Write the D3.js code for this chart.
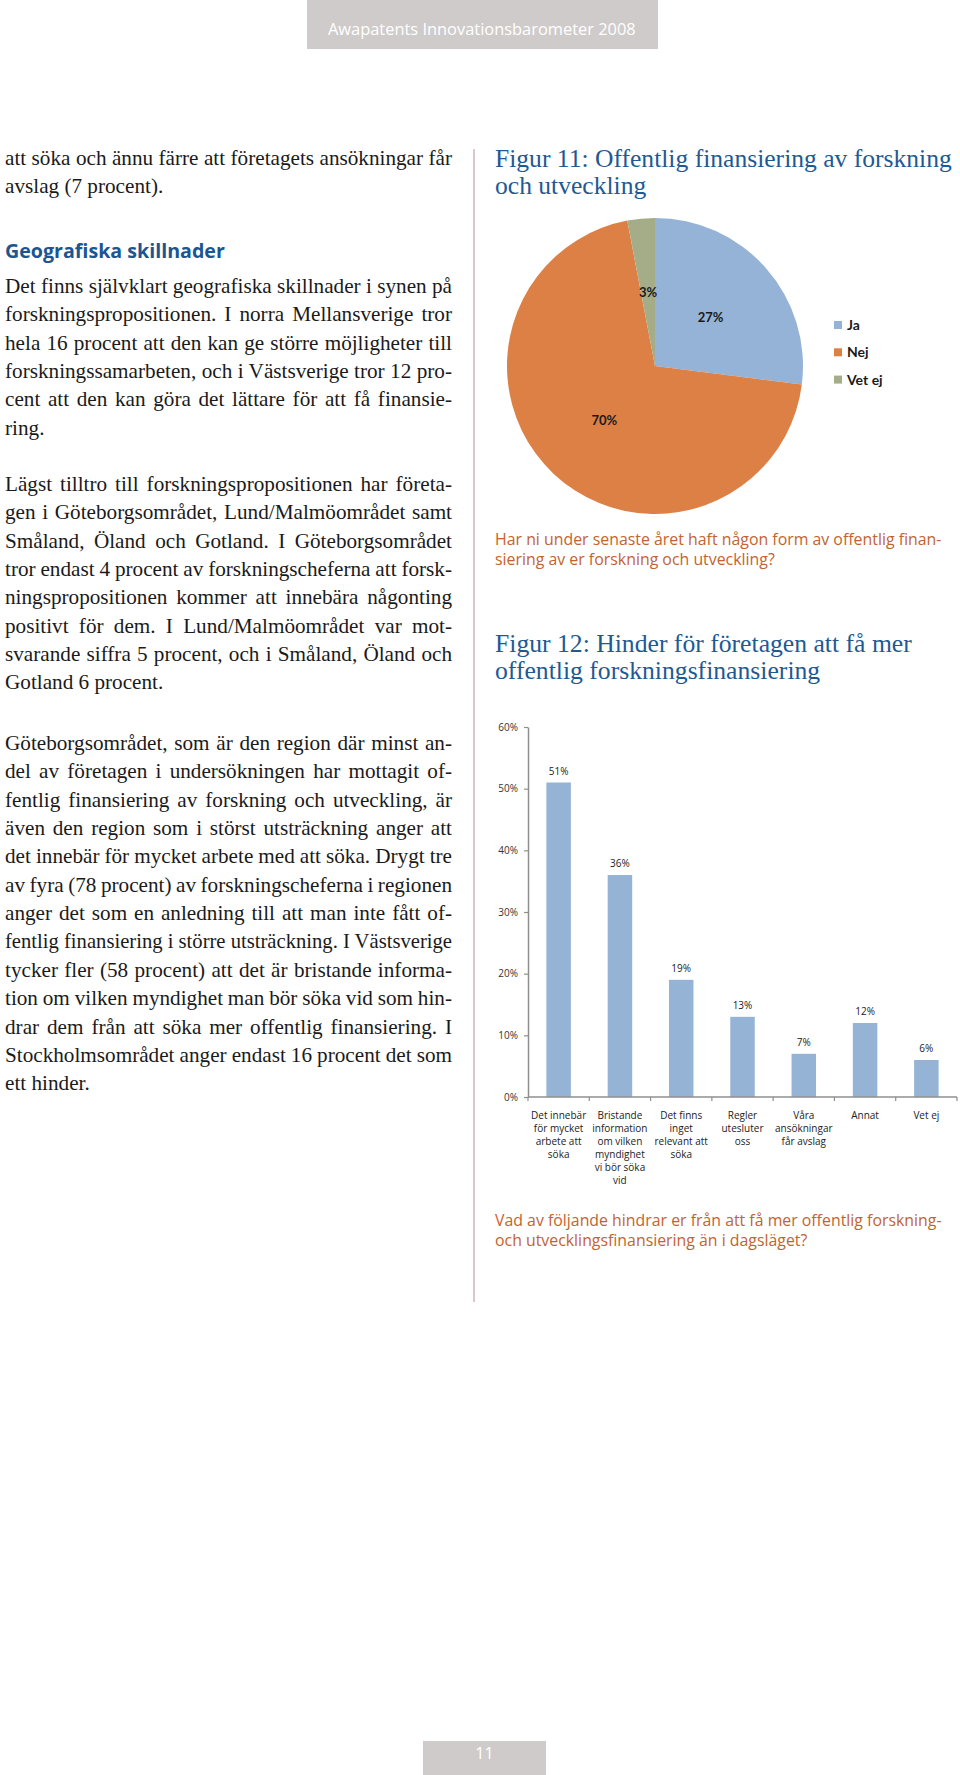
<!DOCTYPE html>
<html><head><meta charset="utf-8">
<script src="https://cdn.jsdelivr.net/npm/d3@7"></script>
<style>
body{margin:0;background:#fff}
svg{display:block}
.body{font-family:"Liberation Serif","Times New Roman",serif;font-size:21.2px;fill:#1a1a1a}
.sans{font-family:"Open Sans","Noto Sans",sans-serif}
</style>
</head><body>
<svg id="page" width="960" height="1775"></svg>
<script>
// ---------- data ----------
const pieCategories = ["Ja", "Nej", "Vet ej"];
const pieValues = [27, 70, 3];
const pieColors = ["#95b3d6", "#dc8046", "#a5ad88"];

const barCategories = [
  ["Det innebär", "för mycket", "arbete att", "söka"],
  ["Bristande", "information", "om vilken", "myndighet", "vi bör söka", "vid"],
  ["Det finns", "inget", "relevant att", "söka"],
  ["Regler", "utesluter", "oss"],
  ["Våra", "ansökningar", "får avslag"],
  ["Annat"],
  ["Vet ej"]
];
const barValues = [51, 36, 19, 13, 7, 12, 6];
const yTickValues = [0, 10, 20, 30, 40, 50, 60];
const yTickLabels = ["0%", "10%", "20%", "30%", "40%", "50%", "60%"];
const barColor = "#95b4d5";

// ---------- text ----------
const headerText = "Awapatents Innovationsbarometer 2008";
const pageNumber = "11";
const para0 = ["att söka och ännu färre att företagets ansökningar får", "avslag (7 procent)."];
const heading1 = "Geografiska skillnader";
const para1 = [
  "Det finns självklart geografiska skillnader i synen på",
  "forskningspropositionen. I norra Mellansverige tror",
  "hela 16 procent att den kan ge större möjligheter till",
  "forskningssamarbeten, och i Västsverige tror 12 pro-",
  "cent att den kan göra det lättare för att få finansie-",
  "ring."
];
const para2 = [
  "Lägst tilltro till forskningspropositionen har företa-",
  "gen i Göteborgsområdet, Lund/Malmöområdet samt",
  "Småland, Öland och Gotland. I Göteborgsområdet",
  "tror endast 4 procent av forskningscheferna att forsk-",
  "ningspropositionen kommer att innebära någonting",
  "positivt för dem. I Lund/Malmöområdet var mot-",
  "svarande siffra 5 procent, och i Småland, Öland och",
  "Gotland 6 procent."
];
const para3 = [
  "Göteborgsområdet, som är den region där minst an-",
  "del av företagen i undersökningen har mottagit of-",
  "fentlig finansiering av forskning och utveckling, är",
  "även den region som i störst utsträckning anger att",
  "det innebär för mycket arbete med att söka. Drygt tre",
  "av fyra (78 procent) av forskningscheferna i regionen",
  "anger det som en anledning till att man inte fått of-",
  "fentlig finansiering i större utsträckning. I Västsverige",
  "tycker fler (58 procent) att det är bristande informa-",
  "tion om vilken myndighet man bör söka vid som hin-",
  "drar dem från att söka mer offentlig finansiering. I",
  "Stockholmsområdet anger endast 16 procent det som",
  "ett hinder."
];
const fig11Title = ["Figur 11: Offentlig finansiering av forskning", "och utveckling"];
const fig11Question = ["Har ni under senaste året haft någon form av offentlig finan-", "siering av er forskning och utveckling?"];
const fig12Title = ["Figur 12: Hinder för företagen att få mer", "offentlig forskningsfinansiering"];
const fig12Question = ["Vad av följande hindrar er från att få mer offentlig forskning-", "och utvecklingsfinansiering än i dagsläget?"];

// ---------- drawing ----------
const svg = d3.select("#page");
const BLUE = "#1d5a94", ORANGE = "#c4632f";

function fittedBlock(lines, x, y0, lh, targetWidth, baseSize, attrs) {
  const g = svg.append("g");
  const ts = lines.map((l, i) => {
    const t = g.append("text").attr("x", x).attr("y", y0 + i * lh).text(l);
    Object.entries(attrs).forEach(([k, v]) => t.style(k, v));
    t.style("font-size", baseSize + "px");
    return t;
  });
  const w = ts[0].node().getComputedTextLength();
  const fs = baseSize * targetWidth / w;
  ts.forEach(t => t.style("font-size", fs + "px"));
  return g;
}

function paragraph(lines, x, y0, lh, width) {
  lines.forEach((line, i) => {
    const t = svg.append("text").attr("class", "body").attr("x", x).attr("y", y0 + i * lh).text(line);
    if (i < lines.length - 1) {
      const w = t.node().getComputedTextLength();
      const n = (line.match(/ /g) || []).length;
      const ws = (width - w) / Math.max(n, 1);
      if (ws > -1.8) t.style("word-spacing", ws + "px");
      else t.attr("textLength", width).attr("lengthAdjust", "spacingAndGlyphs");
    }
  });
}

// header
svg.append("rect").attr("x", 307).attr("y", 0).attr("width", 351).attr("height", 49).attr("fill", "#cfcbca");
fittedBlock([headerText], 328, 35, 0, 308, 16, {"font-family": '"Open Sans", sans-serif', "fill": "#ffffff"});

// footer
svg.append("rect").attr("x", 423).attr("y", 1741).attr("width", 123).attr("height", 34).attr("fill", "#cfcbca");
svg.append("text").attr("x", 484.5).attr("y", 1759).attr("text-anchor", "middle")
  .style("font-family", '"Open Sans", sans-serif').style("font-size", "16px").style("fill", "#fff").text(pageNumber);

// divider
svg.append("line").attr("x1", 474).attr("x2", 474).attr("y1", 149).attr("y2", 1302)
  .attr("stroke", "#b78e9b").attr("stroke-width", 1);

// left column
const LH = 28.35;
const LX = 5, LW = 447;
paragraph(para0, LX, 165, LH, LW);
fittedBlock([heading1], LX, 258, 0, 220, 18, {"font-family": '"Open Sans", sans-serif', "font-weight": "700", "fill": "#1b5592"});
paragraph(para1, LX, 293, LH, LW);
paragraph(para2, LX, 491, LH, LW);
paragraph(para3, LX, 750, LH, LW);

// right column texts
const RX = 495;
fittedBlock(fig11Title, RX, 167, 27, 457, 24, {"font-family": '"Liberation Serif", serif', "fill": BLUE});
fittedBlock(fig11Question, RX, 545, 19.5, 447, 15, {"font-family": '"Open Sans", sans-serif', "fill": ORANGE});
fittedBlock(fig12Title, RX, 652, 27, 417, 24, {"font-family": '"Liberation Serif", serif', "fill": BLUE});
fittedBlock(fig12Question, RX, 1226, 20, 447, 15, {"font-family": '"Open Sans", sans-serif', "fill": ORANGE});

// ---------- pie chart ----------
const pieG = svg.append("g").attr("transform", "translate(655,366)");
const pieData = d3.pie().sort(null).value(d => d)(pieValues);
const arc = d3.arc().innerRadius(0).outerRadius(148);
pieG.selectAll("path.slice").data(pieData).join("path").attr("class", "slice")
  .attr("d", arc).attr("fill", (d, i) => pieColors[i]);
pieG.selectAll("text.plabel").data(pieData).join("text").attr("class", "plabel")
  .attr("transform", d => `translate(${arc.centroid(d)})`)
  .attr("text-anchor", "middle").attr("dy", "0.35em")
  .style("font-family", "Lato, sans-serif").style("font-weight", "700").style("font-size", "13px").style("fill", "#1a1a1a")
  .text(d => d.value + "%");

const legend = svg.append("g").attr("transform", "translate(834,325)");
const li = legend.selectAll("g").data(pieCategories).join("g").attr("transform", (d, i) => `translate(0,${i * 27.3})`);
li.append("rect").attr("x", 0).attr("y", -4).attr("width", 8).attr("height", 8).attr("fill", (d, i) => pieColors[i]);
li.append("text").attr("x", 13).attr("dy", "0.35em")
  .style("font-family", "Lato, sans-serif").style("font-weight", "700").style("font-size", "14px").style("fill", "#1a1a1a")
  .text(d => d);

// ---------- bar chart ----------
const x = d3.scaleBand().domain(d3.range(barValues.length)).range([528, 957]).paddingInner(0.6).paddingOuter(0.3);
const y = d3.scaleLinear().domain([0, 60]).range([1097, 727]);
const AX = "#8f8f8f";

svg.append("g").selectAll("rect").data(barValues).join("rect")
  .attr("x", (d, i) => x(i)).attr("width", x.bandwidth())
  .attr("y", d => y(d)).attr("height", d => y(0) - y(d)).attr("fill", barColor);

svg.append("g").selectAll("text").data(barValues).join("text")
  .attr("x", (d, i) => x(i) + x.bandwidth() / 2).attr("y", d => y(d) - 8)
  .attr("text-anchor", "middle")
  .style("font-family", '"Open Sans", sans-serif').style("font-size", "10px").style("fill", "#222")
  .text(d => d + "%");

const yAxis = svg.append("g").attr("transform", "translate(528,0)")
  .call(d3.axisLeft(y).tickValues(yTickValues).tickFormat((d, i) => yTickLabels[i]).tickSize(4).tickSizeOuter(0).tickPadding(6));
yAxis.select(".domain").attr("stroke", AX).attr("stroke-width", 1.5);
yAxis.selectAll(".tick line").attr("stroke", AX).attr("stroke-width", 1.2);
yAxis.selectAll(".tick text").style("font-family", '"Open Sans", sans-serif').style("font-size", "10px").style("fill", "#333");

const xAxis = svg.append("g");
const x0 = x.range()[0], x1 = x.range()[1];
xAxis.append("line").attr("x1", x0).attr("x2", x1).attr("y1", y(0)).attr("y2", y(0)).attr("stroke", AX).attr("stroke-width", 1.5);
const bounds = d3.range(barValues.length + 1).map(i => x0 + i * x.step());
xAxis.selectAll("line.bt").data(bounds).join("line").attr("class", "bt")
  .attr("x1", d => d).attr("x2", d => d).attr("y1", y(0)).attr("y2", y(0) + 4)
  .attr("stroke", AX).attr("stroke-width", 1.2);

const xl = svg.append("g").selectAll("text").data(barCategories).join("text")
  .attr("text-anchor", "middle")
  .style("font-family", '"Open Sans", sans-serif').style("font-size", "10px").style("fill", "#222");
xl.each(function (lines, i) {
  const t = d3.select(this);
  lines.forEach((l, j) => {
    t.append("tspan").attr("x", x(i) + x.bandwidth() / 2).attr("y", 1119 + j * 12.9).text(l);
  });
});
</script>
</body></html>
